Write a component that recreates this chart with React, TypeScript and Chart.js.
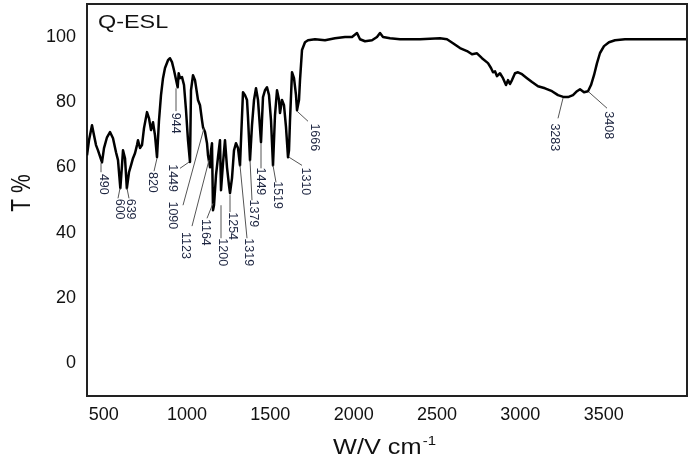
import React, { useEffect, useRef } from "react";
import { Chart, registerables } from "chart.js";

Chart.register(...registerables);

// Wavenumber (cm-1) and transmittance (%)
const wavenumbers = [
  400, 412, 430, 442, 454, 466, 490, 502, 520, 538,
  556, 574, 586, 600, 610, 616, 628, 639, 652, 664,
  676, 688, 700, 706, 718, 730, 742, 760, 772, 784,
  796, 808, 820, 832, 844, 856, 868, 886, 898, 910,
  922, 944, 950, 958, 970, 982, 994, 1006, 1018, 1024,
  1036, 1048, 1066, 1078, 1090, 1096, 1108, 1120, 1126, 1138,
  1144, 1150, 1156, 1162, 1174, 1186, 1198, 1204, 1216, 1228,
  1240, 1252, 1258, 1270, 1282, 1294, 1306, 1318, 1324, 1336,
  1348, 1360, 1366, 1378, 1390, 1402, 1414, 1426, 1444, 1456,
  1468, 1480, 1492, 1504, 1516, 1528, 1540, 1552, 1558, 1570,
  1582, 1594, 1606, 1612, 1618, 1630, 1642, 1654, 1660, 1672,
  1678, 1690, 1708, 1726, 1768, 1828, 1888, 1948, 1990, 2020,
  2038, 2068, 2110, 2140, 2158, 2176, 2218, 2278, 2398, 2518,
  2560, 2596, 2638, 2680, 2710, 2740, 2770, 2806, 2824, 2836,
  2848, 2860, 2878, 2896, 2914, 2926, 2938, 2950, 2968, 2986,
  3010, 3040, 3070, 3106, 3148, 3190, 3226, 3262, 3286, 3316,
  3340, 3358, 3382, 3406, 3424, 3442, 3460, 3478, 3502, 3532,
  3568, 3628, 3688, 4000,
];

const transmittance = [
  63.7, 68.3, 72.9, 69.8, 66.8, 65.2, 61.5, 65.9, 69.2, 70.8,
  68.9, 64.6, 62.2, 53.6, 60.6, 65.2, 62.8, 53.6, 58.5, 60.6,
  62.8, 64.3, 66.8, 68.3, 65.9, 66.8, 72.0, 76.9, 75.0, 71.4,
  73.8, 69.8, 63.1, 74.4, 82.1, 87.3, 90.4, 92.8, 93.4, 92.2,
  89.7, 84.5, 88.8, 87.3, 87.6, 85.2, 77.5, 68.3, 61.6, 83.6,
  88.2, 86.7, 80.6, 79.0, 74.4, 72.3, 70.8, 67.4, 63.7, 60.0,
  65.2, 67.4, 46.9, 48.4, 57.6, 63.1, 68.3, 53.0, 61.3, 68.3,
  60.0, 54.5, 52.1, 56.7, 65.2, 67.4, 65.9, 60.6, 68.3, 83.0,
  82.1, 80.6, 75.3, 62.2, 72.9, 80.6, 84.2, 80.6, 67.7, 81.5,
  83.6, 84.5, 82.1, 74.4, 60.6, 76.0, 83.6, 80.6, 76.6, 80.6,
  79.0, 72.3, 63.1, 65.2, 74.4, 89.1, 87.3, 82.1, 77.5, 80.6,
  86.7, 95.9, 98.3, 98.9, 99.2, 98.9, 99.5, 99.9, 99.9, 101.1,
  99.2, 98.6, 98.9, 99.9, 101.1, 99.9, 99.5, 99.2, 99.2, 99.5,
  99.2, 98.0, 96.5, 95.6, 94.6, 94.9, 93.4, 91.9, 90.4, 89.1,
  89.4, 87.9, 88.8, 87.3, 85.2, 86.7, 85.5, 86.7, 88.8, 89.1,
  88.5, 87.3, 86.1, 84.8, 84.2, 83.3, 82.1, 81.5, 81.5, 82.1,
  83.3, 83.9, 83.0, 83.3, 85.2, 88.2, 91.9, 95.0, 97.1, 98.3,
  98.9, 99.2, 99.2, 99.2,
];

const xTickValues = [500, 1000, 1500, 2000, 2500, 3000, 3500];
const yTickValues = [0, 20, 40, 60, 80, 100];

// Peak annotations: text, leader start (on curve), leader end, text centre (data units)
const peakTexts = ["490", "600", "639", "820", "944", "1449", "1090", "1123", "1164", "1200", "1254", "1319", "1379", "1449", "1519", "1310", "1666", "3283", "3408"];
const peakPoints = [
  [484, 61.3], [598, 53.6], [640, 53.6], [820, 62.8], [934, 84.2], [1012, 61.6], [1102, 72.0], [1132, 62.2], [1156, 49.0], [1204, 48.4],
  [1258, 51.5], [1318, 60.6], [1378, 62.2], [1444, 67.4], [1516, 60.6], [1612, 63.1], [1660, 77.2], [3256, 81.2], [3412, 83.0],
];
const leaderEnds = [
  [484, 58.5], [586, 50.5], [652, 50.5], [802, 58.8], [934, 77.2], [958, 59.7], [976, 48.4], [1030, 42.0], [1120, 44.4], [1204, 38.3],
  [1258, 46.3], [1360, 38.3], [1390, 49.9], [1444, 59.7], [1534, 55.4], [1690, 60.6], [1726, 74.1], [3226, 75.0], [3520, 78.1],
];
const labelCentres = [
  [496, 54.8], [592, 47.2], [658, 47.2], [790, 55.4], [928, 73.5], [910, 56.7], [910, 45.3], [988, 36.1], [1108, 40.1], [1210, 34.0],
  [1270, 42.0], [1366, 34.0], [1396, 45.9], [1438, 55.7], [1540, 51.5], [1708, 55.7], [1762, 69.2], [3202, 69.2], [3526, 72.9],
];

const sampleName = "Q-ESL";
const yTitle = "T %";
const xTitle = "W/V cm";
const xTitleSup = "-1";

const FONT = '"Liberation Sans", Arial, Helvetica, sans-serif';

const overlayPlugin = {
  id: "overlay",
  afterDatasetsDraw(chart: any) {
    const { ctx, chartArea: a, scales } = chart;
    const xs = scales.x;
    const ys = scales.y;
    ctx.save();

    // top and right frame lines
    ctx.strokeStyle = "#222";
    ctx.lineWidth = 2;
    ctx.beginPath();
    ctx.moveTo(a.left, a.top);
    ctx.lineTo(a.right, a.top);
    ctx.lineTo(a.right, a.bottom);
    ctx.stroke();

    // leader lines
    ctx.strokeStyle = "#555";
    ctx.lineWidth = 1;
    peakPoints.forEach((p, i) => {
      const e = leaderEnds[i];
      ctx.beginPath();
      ctx.moveTo(xs.getPixelForValue(p[0]), ys.getPixelForValue(p[1]));
      ctx.lineTo(xs.getPixelForValue(e[0]), ys.getPixelForValue(e[1]));
      ctx.stroke();
    });

    // rotated peak labels
    ctx.fillStyle = "#1d2540";
    ctx.font = `12.5px ${FONT}`;
    ctx.textAlign = "center";
    ctx.textBaseline = "middle";
    peakTexts.forEach((t, i) => {
      const c = labelCentres[i];
      ctx.save();
      ctx.translate(xs.getPixelForValue(c[0]), ys.getPixelForValue(c[1]));
      ctx.rotate(Math.PI / 2);
      ctx.fillText(t, 0, 0);
      ctx.restore();
    });

    // sample name
    ctx.fillStyle = "#111";
    ctx.textAlign = "left";
    ctx.textBaseline = "alphabetic";
    ctx.save();
    ctx.translate(a.left + 11, a.top + 24);
    ctx.scale(1.3, 1);
    ctx.font = `18px ${FONT}`;
    ctx.fillText(sampleName, 0, 0);
    ctx.restore();

    // x axis title with superscript
    ctx.save();
    ctx.translate(a.left + 246, a.bottom + 58);
    ctx.scale(1.15, 1);
    ctx.font = `22px ${FONT}`;
    ctx.fillText(xTitle, 0, 0);
    const w = ctx.measureText(xTitle).width;
    ctx.font = `13px ${FONT}`;
    ctx.fillText(xTitleSup, w + 1, -9);
    ctx.restore();

    // y axis title
    ctx.save();
    ctx.translate(a.left - 65, (a.top + a.bottom) / 2 - 7);
    ctx.rotate(-Math.PI / 2);
    ctx.scale(1, 1.3);
    ctx.textAlign = "center";
    ctx.textBaseline = "middle";
    ctx.font = `21px ${FONT}`;
    ctx.fillText(yTitle, 0, 0);
    ctx.restore();

    ctx.restore();
  },
};

export default function App() {
  const canvasRef = useRef<HTMLCanvasElement | null>(null);

  useEffect(() => {
    const canvas = canvasRef.current;
    if (!canvas) return;
    const points = wavenumbers.map((x, i) => ({ x, y: transmittance[i] }));
    const chart = new Chart(canvas, {
      type: "line",
      data: {
        datasets: [
          {
            data: points,
            borderColor: "#000",
            borderWidth: 2.5,
            pointRadius: 0,
            tension: 0,
            fill: false,
            borderJoinStyle: "round",
          },
        ],
      },
      options: {
        animation: false,
        responsive: false,
        maintainAspectRatio: false,
        layout: { padding: { left: 0, right: 11, top: 4, bottom: 0 } },
        plugins: { legend: { display: false }, tooltip: { enabled: false } },
        scales: {
          x: {
            type: "linear",
            min: 400,
            max: 4000,
            grid: { display: false, drawTicks: false },
            border: { display: true, color: "#222", width: 2 },
            ticks: {
              color: "#111",
              font: { family: FONT, size: 18 },
              padding: 8,
              autoSkip: false,
              maxRotation: 0,
              callback: (v: any) => String(v),
            },
            afterBuildTicks: (s: any) => {
              s.ticks = xTickValues.map((v) => ({ value: v }));
            },
            afterFit: (s: any) => {
              s.height = 70;
              s.paddingLeft = 0;
              s.paddingRight = 0;
            },
          },
          y: {
            type: "linear",
            min: -10,
            max: 110,
            grid: { display: false, drawTicks: false },
            border: { display: true, color: "#222", width: 2 },
            ticks: {
              color: "#111",
              font: { family: FONT, size: 18 },
              padding: 11,
              callback: (v: any) => String(v),
            },
            afterBuildTicks: (s: any) => {
              s.ticks = yTickValues.map((v) => ({ value: v }));
            },
            afterFit: (s: any) => {
              s.width = 87;
              s.paddingTop = 0;
              s.paddingBottom = 0;
            },
          },
        },
      },
      plugins: [overlayPlugin],
    });
    return () => chart.destroy();
  }, []);

  return (
    <div style={{ position: "absolute", left: 0, top: 0, width: 698, height: 466, background: "#fff" }}>
      <canvas ref={canvasRef} width={698} height={466} style={{ display: "block", width: 698, height: 466 }} />
    </div>
  );
}
